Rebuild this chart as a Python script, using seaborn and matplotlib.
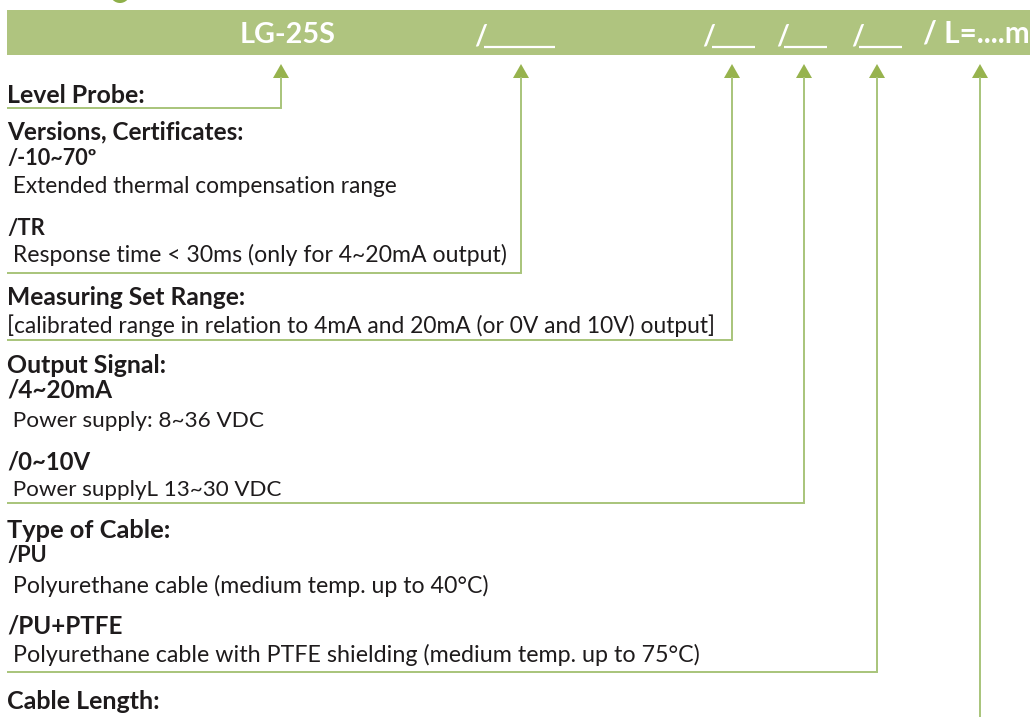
import matplotlib
matplotlib.use("Agg")
import matplotlib.pyplot as plt
import seaborn as sns
from matplotlib.patches import Rectangle, Polygon, Ellipse

sns.set_theme(style="white")
plt.rcParams['font.family'] = ['Lato', 'DejaVu Sans']

# ---- content ----
banner_labels = ["LG-25S", "/", "/", "/", "/", "/ L=....m"]
banner_x = [240, 475, 703, 777, 852, 923]
banner_w = [96, 8, 8, 8, 8, 107]
blank_x0 = [484, 712, 784, 859]
blank_x1 = [555, 755, 827, 902]

arrow_x = [281, 521, 732, 804, 877, 980]
arrow_end_y = [108, 273, 340, 503, 672, 717]
arrow_has_left = [True, True, True, True, True, False]

lines_text = [
    "Level Probe:",
    "Versions, Certificates:",
    "/-10~70º",
    " Extended thermal compensation range",
    "/TR",
    " Response time < 30ms (only for 4~20mA output)",
    "Measuring Set Range:",
    "[calibrated range in relation to 4mA and 20mA (or 0V and 10V) output]",
    "Output Signal:",
    "/4~20mA",
    " Power supply: 8~36 VDC",
    "/0~10V",
    " Power supplyL 13~30 VDC",
    "Type of Cable:",
    "/PU",
    " Polyurethane cable (medium temp. up to 40°C)",
    "/PU+PTFE",
    " Polyurethane cable with PTFE shielding (medium temp. up to 75°C)",
    "Cable Length:",
]
lines_bold = [True, True, True, False, True, False, True, False, True, True,
              False, True, False, True, True, False, True, False, True]
lines_base = [103, 139, 165, 193, 235, 262, 305, 333, 373, 398, 427, 469,
              496, 538, 562, 593, 633, 662, 709]
lines_right = [145, 245, 96, 397, 45, 508, 247, 718, 167, 112, 264, 90,
               282, 170, 47, 489, 122, 700, 160]

BANNER = "#afc47f"
ARROW = "#97b34e"
LINE = "#a8c47a"
TEXT = "#1e1b1c"

W, H = 1030, 717
fig = plt.figure(figsize=(W / 100, H / 100), dpi=100)
ax = fig.add_axes([0, 0, 1, 1])
ax.set_xlim(0, W)
ax.set_ylim(H, 0)
ax.axis("off")
renderer = fig.canvas.get_renderer()


def fit_text(x, y, s, width, size0, **kw):
    t = ax.text(x, y, s, fontsize=size0, **kw)
    bb = t.get_window_extent(renderer)
    if bb.width > 0:
        t.set_fontsize(size0 * width / bb.width)
    return t


# partial icon at very top
ax.add_patch(Ellipse((120, -7), 20, 20, color="#8fb04a", lw=0))

# banner
ax.add_patch(Rectangle((7, 10), W - 7 + 5, 45, color=BANNER, lw=0))
for s, x, w in zip(banner_labels, banner_x, banner_w):
    if len(s) == 1:
        ax.text(x - 1, 45, s, fontsize=20, color="white", fontweight="bold",
                va="baseline", ha="left")
    else:
        fit_text(x, 43, s, w, 17, color="white", fontweight="bold",
                 va="baseline", ha="left")
for a, b in zip(blank_x0, blank_x1):
    ax.plot([a, b], [46.5, 46.5], color="white", lw=1.6,
            solid_capstyle="butt")

# arrows and connector lines
for x, ye, left in zip(arrow_x, arrow_end_y, arrow_has_left):
    ax.add_patch(Polygon([(x - 8, 78), (x + 8, 78), (x, 64)], closed=True,
                         color=ARROW, lw=0))
    xs = [x, x] + ([7] if left else [])
    ys = [77, ye] + ([ye] if left else [])
    ax.plot(xs, ys, color=LINE, lw=1.4, solid_joinstyle="miter",
            solid_capstyle="butt")

# texts
for s, b, y, r in zip(lines_text, lines_bold, lines_base, lines_right):
    x0 = 7
    fit_text(x0, y, s, r - x0, 16 if b else 14, color=TEXT,
             fontweight="bold" if b else "normal", va="baseline", ha="left")

fig.savefig("out.png", dpi=100)
